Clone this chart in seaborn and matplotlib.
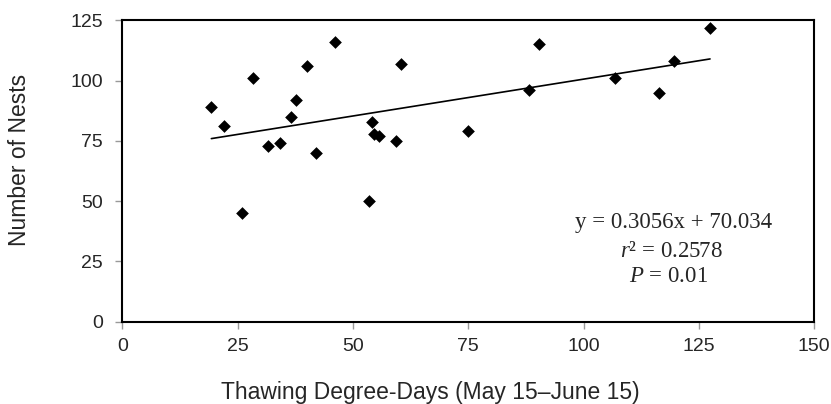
import numpy as np
import pandas as pd
import matplotlib
matplotlib.use("Agg")
import matplotlib.pyplot as plt
import seaborn as sns

# data
thaw_dd = [19.3, 22.0, 25.9, 28.3, 31.5, 34.2, 36.5, 37.6, 40.1, 42.0, 46.2, 53.4,
           54.2, 54.5, 55.7, 59.3, 60.4, 74.9, 88.1, 90.3, 106.8, 116.3, 119.6, 127.4]
nests = [89, 81, 45, 101, 73, 74, 85, 92, 106, 70, 116, 50,
         83, 78, 77, 75, 107, 79, 96, 115, 101, 95, 108, 122]
slope = 0.3056
intercept = 70.034
r2_text = "0.2578"
p_text = "0.01"
x_ticks = [0, 25, 50, 75, 100, 125, 150]
y_ticks = [0, 25, 50, 75, 100, 125]

df = pd.DataFrame({"x": thaw_dd, "y": nests})
fit_x = np.array([min(thaw_dd), max(thaw_dd)])
fit = pd.DataFrame({"x": fit_x, "y": slope * fit_x + intercept})

sns.set_style("white")
plt.rcParams['font.family'] = ['Liberation Sans', 'DejaVu Sans']
plt.rcParams['mathtext.fontset'] = 'custom'
plt.rcParams['mathtext.rm'] = 'Liberation Serif'
plt.rcParams['mathtext.it'] = 'Liberation Serif:italic'

fig = plt.figure(figsize=(8.31, 4.04), dpi=100)
ax = fig.add_axes([0.1472, 0.2037, 0.8327, 0.7461])

sns.lineplot(data=fit, x="x", y="y", color="black", linewidth=1.2, ax=ax)
sns.scatterplot(data=df, x="x", y="y", marker="D", color="black", s=42,
                linewidth=0, ax=ax, zorder=3)

ax.set_xlim(0, 150)
ax.set_ylim(0, 125)
ax.set_xticks(x_ticks)
ax.set_yticks(y_ticks)
ax.tick_params(axis="both", labelsize=14, length=5, width=1, color="#999999",
               direction="out", bottom=True, left=True)
ax.tick_params(axis="x", pad=7)
ax.tick_params(axis="y", pad=9)
for sp in ax.spines.values():
    sp.set_color("black")
    sp.set_linewidth(1.5)

ax.set_xlabel("Thawing Degree-Days (May 15\u2013June 15)", fontsize=16.5)
ax.set_ylabel("Number of Nests", fontsize=16.5)
ax.xaxis.set_label_coords(0.445, -0.197)
ax.yaxis.label.set_va("center")
ax.yaxis.set_label_coords(-0.148, 0.5365)

serif = ['Liberation Serif', 'DejaVu Serif']
ax.text(0.796, 0.3275, "y = %.4fx + %.3f" % (slope, intercept), transform=ax.transAxes,
        ha="center", va="center", fontsize=16.5, family=serif)
ax.text(0.794, 0.232, "$\\mathit{r}$\u00b2 = " + r2_text, transform=ax.transAxes,
        ha="center", va="center", fontsize=16.5, family=serif)
ax.text(0.790, 0.149, "$\\mathit{P}$ = " + p_text, transform=ax.transAxes,
        ha="center", va="center", fontsize=16.5, family=serif)

plt.savefig("out.png", dpi=100)
